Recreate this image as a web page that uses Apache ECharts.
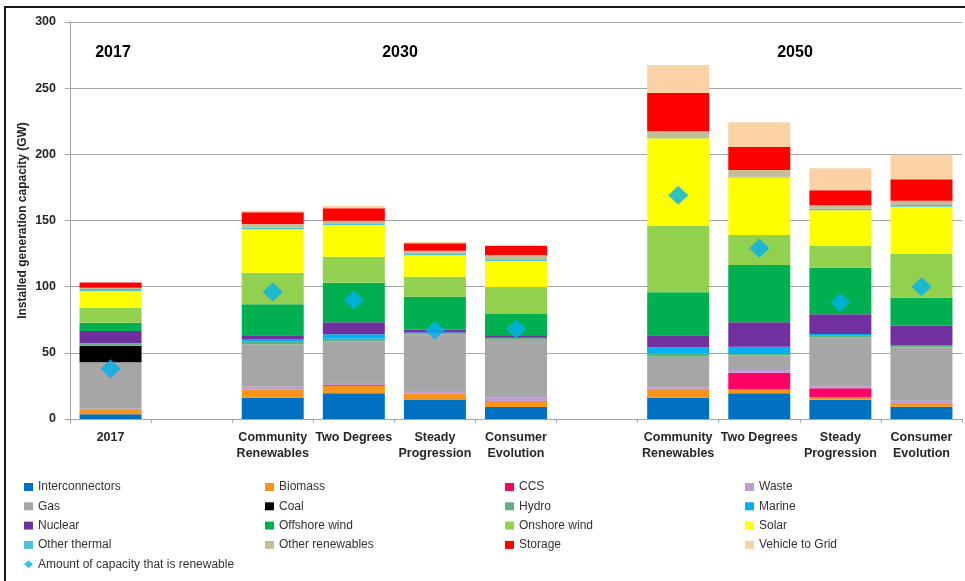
<!DOCTYPE html>
<html>
<head>
<meta charset="utf-8">
<script src="https://cdn.jsdelivr.net/npm/echarts@6/dist/echarts.min.js"></script>
<style>
html,body{margin:0;padding:0;background:#fff;}
#c{width:965px;height:581px;}
</style>
</head>
<body>
<div id="c"></div>
<script>
// Categories (blank slots separate the year groups)
const categories = ['2017', '', 'Community\nRenewables', 'Two Degrees', 'Steady\nProgression', 'Consumer\nEvolution', '', 'Community\nRenewables', 'Two Degrees', 'Steady\nProgression', 'Consumer\nEvolution'];
const yTicks = [0, 50, 100, 150, 200, 250, 300];
const groupLabels = ['2017', '2030', '2050'];

// Installed capacity by technology (GW)
const interconnectors = [3.5, '-', 16.1, 19.4, 14.4, 9.1, '-', 16.1, 19.4, 14.6, 9.3];
const biomass         = [3.3, '-', 6.3, 5.8, 5.0, 4.5, '-', 5.8, 3.3, 1.8, 2.0];
const ccs             = [0, '-', 0, 0.5, 0, 0, '-', 0, 12.3, 6.8, 0.5];
const waste           = [1.0, '-', 2.0, 1.5, 1.8, 2.5, '-', 2.0, 2.0, 1.5, 2.0];
const gas             = [35.0, '-', 32.0, 31.5, 42.8, 44.4, '-', 23.2, 11.1, 36.8, 40.4];
const coal            = [12.6, '-', 0, 0, 0, 0, '-', 0, 0, 0, 0];
const hydro           = [1.7, '-', 2.0, 2.0, 1.0, 0.7, '-', 2.5, 1.0, 2.0, 1.0];
const marine          = [0.1, '-', 2.0, 3.3, 0.3, 0.2, '-', 4.6, 5.5, 0.7, 0.3];
const nuclear         = [9.3, '-', 2.8, 9.1, 2.2, 1.3, '-', 9.0, 18.5, 14.9, 15.0];
const offshoreWind    = [6.3, '-', 23.5, 29.9, 24.9, 16.6, '-', 32.5, 43.3, 35.2, 21.2];
const onshoreWind     = [11.3, '-', 23.9, 19.7, 15.1, 20.4, '-', 50.4, 22.6, 16.4, 33.0];
const solar           = [12.6, '-', 32.7, 23.9, 16.2, 19.7, '-', 66.0, 43.4, 27.0, 35.7];
const otherThermal    = [1.5, '-', 1.3, 1.3, 1.5, 1.3, '-', 0.8, 0.7, 1.2, 1.3];
const otherRenewables = [1.0, '-', 2.8, 2.0, 2.0, 3.2, '-', 4.7, 5.1, 2.6, 3.3];
const storage         = [4.0, '-', 8.8, 9.3, 5.6, 6.8, '-', 28.8, 17.6, 11.3, 16.1];
const vehicleToGrid   = [0, '-', 1.2, 1.8, 1.0, 0.8, '-', 21.1, 18.4, 16.6, 18.6];
const renewable       = [38, '-', 96, 90, 67, 68, '-', 169, 129, 88, 100];

const stackDefs = [
  ['Interconnectors', interconnectors, '#0070C0'],
  ['Biomass', biomass, '#F7941D'],
  ['CCS', ccs, '#FF0066'],
  ['Waste', waste, '#C39AD6'],
  ['Gas', gas, '#A6A6A6'],
  ['Coal', coal, '#000000'],
  ['Hydro', hydro, '#5FB27D'],
  ['Marine', marine, '#00B0F0'],
  ['Nuclear', nuclear, '#7030A0'],
  ['Offshore wind', offshoreWind, '#00B050'],
  ['Onshore wind', onshoreWind, '#92D050'],
  ['Solar', solar, '#FFFF00'],
  ['Other thermal', otherThermal, '#4BC3D6'],
  ['Other renewables', otherRenewables, '#C4BD97'],
  ['Storage', storage, '#FF0000'],
  ['Vehicle to Grid', vehicleToGrid, '#FBD1A6']
];
const renewName = 'Amount of capacity that is renewable';

const series = stackDefs.map(([name, data, color]) => ({
  name, type: 'bar', stack: 'total', data, barWidth: 62,
  itemStyle: { color }, emphasis: { disabled: true }
}));
series.push({
  name: renewName, type: 'scatter', data: renewable,
  symbol: 'diamond', symbolSize: [20, 19],
  itemStyle: { color: '#00B0F0' }, z: 5
});

const legendText = { fontFamily: 'Liberation Sans, Arial, sans-serif', fontSize: 12, color: '#333', lineHeight: 14 };
const cols = [
  ['Interconnectors', 'Gas', 'Nuclear', 'Other thermal', renewName],
  ['Biomass', 'Coal', 'Offshore wind', 'Other renewables'],
  ['CCS', 'Hydro', 'Onshore wind', 'Storage'],
  ['Waste', 'Marine', 'Solar', 'Vehicle to Grid']
];
const colLeft = [24, 265, 505, 745];
const legends = cols.map((d, i) => ({
  orient: 'vertical', left: colLeft[i], top: 480,
  itemWidth: 9, itemHeight: 8, itemGap: 5.3,
  data: d.map(n => n === renewName ? { name: n, icon: 'diamond' } : { name: n, icon: 'rect' }),
  textStyle: legendText, selectedMode: false, padding: 0
}));

const chart = echarts.init(document.getElementById('c'), null, { renderer: 'canvas' });
chart.setOption({
  animation: false,
  backgroundColor: '#fff',
  grid: { left: 70, right: 3, top: 22, bottom: 162 },
  legend: legends,
  xAxis: {
    type: 'category', data: categories, boundaryGap: true,
    axisLine: { lineStyle: { color: '#A6A6A6', width: 1 } },
    axisTick: { show: true, length: 4, lineStyle: { color: '#A6A6A6' } },
    axisLabel: { interval: 0, margin: 11, fontFamily: 'Liberation Sans, Arial, sans-serif', fontSize: 12.5, fontWeight: 'bold', color: '#262626', lineHeight: 16 }
  },
  yAxis: {
    type: 'value', min: 0, max: 300, interval: 50,
    name: 'Installed generation capacity (GW)', nameLocation: 'middle', nameGap: 41, nameRotate: 90,
    nameMoveOverlap: false,
    nameTextStyle: { fontFamily: 'Liberation Sans, Arial, sans-serif', fontSize: 12, fontWeight: 'bold', color: '#262626' },
    axisLine: { show: true, lineStyle: { color: '#A6A6A6' } },
    axisTick: { show: true, length: 5, lineStyle: { color: '#A6A6A6' } },
    axisLabel: { margin: 14, fontFamily: 'Liberation Sans, Arial, sans-serif', fontSize: 12.5, fontWeight: 'bold', color: '#262626',
      formatter: v => yTicks.includes(v) ? String(v) : '' },
    splitLine: { lineStyle: { color: '#A6A6A6', width: 1 } }
  },
  series,
  graphic: [
    { type: 'rect', shape: { x: 5, y: 7, width: 1000, height: 1000 }, style: { fill: 'none', stroke: '#1a1a1a', lineWidth: 2 }, silent: true },
    { type: 'text', x: 113, y: 53, style: { text: groupLabels[0], font: 'bold 16px Liberation Sans, Arial, sans-serif', fill: '#000', align: 'center', verticalAlign: 'middle' } },
    { type: 'text', x: 400, y: 53, style: { text: groupLabels[1], font: 'bold 16px Liberation Sans, Arial, sans-serif', fill: '#000', align: 'center', verticalAlign: 'middle' } },
    { type: 'text', x: 795, y: 53, style: { text: groupLabels[2], font: 'bold 16px Liberation Sans, Arial, sans-serif', fill: '#000', align: 'center', verticalAlign: 'middle' } }
  ]
});
</script>
</body>
</html>
